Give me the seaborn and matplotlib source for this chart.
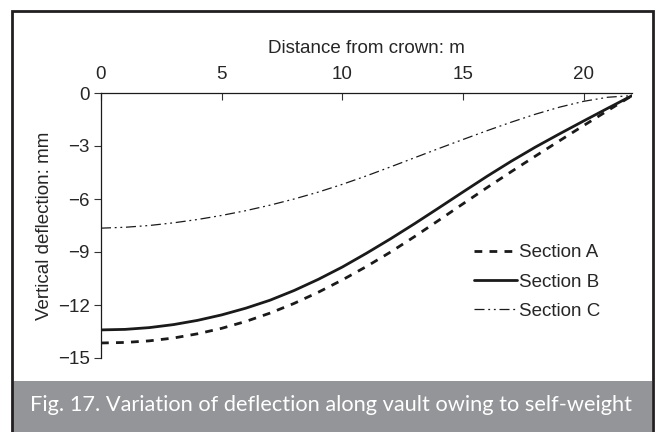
import numpy as np
import pandas as pd
import matplotlib
matplotlib.use("Agg")
import matplotlib.pyplot as plt
import seaborn as sns
from matplotlib.patches import Rectangle

# distance from crown (m)
distance = [0, 1, 2, 3, 4, 5, 6, 7, 8, 9, 10, 11,
            12, 13, 14, 15, 16, 17, 18, 19, 20, 21, 22]

# vertical deflection (mm)
section_a = [-14.15, -14.12, -14.03, -13.87, -13.63, -13.32, -12.93, -12.46,
             -11.91, -11.28, -10.58, -9.82, -9.00, -8.12, -7.20, -6.27,
             -5.35, -4.45, -3.57, -2.70, -1.84, -0.99, -0.15]
section_b = [-13.41, -13.38, -13.28, -13.11, -12.87, -12.56, -12.18, -11.73,
             -11.18, -10.55, -9.85, -9.07, -8.25, -7.39, -6.50, -5.60,
             -4.71, -3.86, -3.06, -2.31, -1.58, -0.86, -0.15]
section_c = [-7.65, -7.60, -7.50, -7.35, -7.16, -6.93, -6.66, -6.35,
             -6.00, -5.61, -5.17, -4.69, -4.18, -3.66, -3.14, -2.63,
             -2.13, -1.65, -1.20, -0.80, -0.47, -0.24, -0.15]

labels = ["Section A", "Section B", "Section C"]
xticks = [0, 5, 10, 15, 20]
yticks = [0, -3, -6, -9, -12, -15]
caption = "Fig. 17. Variation of deflection along vault owing to self-weight"

df = pd.DataFrame({
    "distance": distance * 3,
    "deflection": section_a + section_b + section_c,
    "section": [s for s in labels for _ in distance],
})

sns.set_style("white")
plt.rcParams["font.family"] = ["Liberation Sans", "DejaVu Sans"]

fig = plt.figure(figsize=(6.59, 4.32), dpi=100)
ax = fig.add_axes([101 / 659, 1 - 358 / 432, 531 / 659, 265 / 432])

styles = {
    "Section A": dict(lw=2.0, linestyle=(0, (2.8, 2.6))),
    "Section B": dict(lw=2.0, linestyle="-"),
    "Section C": dict(lw=0.9, linestyle=(0, (8, 3, 1.5, 3, 1.5, 3))),
}
for name in labels:
    sub = df[df["section"] == name]
    sns.lineplot(data=sub, x="distance", y="deflection", ax=ax, color="#1a1a1a",
                 label=name, **styles[name])

ax.set_xlim(0, 22)
ax.set_ylim(-15, 0)
ax.set_xticks(xticks)
ax.set_yticks(yticks)
ax.set_yticklabels(["0"] + ["\u2212" + str(-v) for v in yticks[1:]])

fs = 13.5
ax.xaxis.tick_top()
ax.xaxis.set_label_position("top")
ax.tick_params(axis="x", direction="in", length=5, width=0.8, pad=7,
               labelsize=fs, color="#333333")
ax.tick_params(axis="y", direction="out", length=5, width=0.8, pad=3,
               labelsize=fs, color="#333333", left=True)

for side in ["bottom", "right"]:
    ax.spines[side].set_visible(False)
for side in ["top", "left"]:
    ax.spines[side].set_color("#1a1a1a")
    ax.spines[side].set_linewidth(0.9)

ax.set_xlabel("Distance from crown: m", fontsize=fs)
ax.set_ylabel("Vertical deflection: mm", fontsize=fs)
ax.xaxis.set_label_coords(0.5, 1.151)
ax.yaxis.set_label_coords(-0.09, 0.5)

leg = ax.legend(loc="center left", bbox_to_anchor=(0.688, 0.287), frameon=False,
                fontsize=fs, handlelength=2.3, handletextpad=0.1,
                labelspacing=0.64, borderaxespad=0)

# outer frame and caption band
fig.patches.append(Rectangle((12 / 659, -0.01), 641 / 659, 1 - 11 / 432 + 0.01,
                             transform=fig.transFigure, fill=False,
                             edgecolor="#231f20", lw=2.0, zorder=5))
fig.patches.append(Rectangle((13 / 659, 0), 639 / 659, 51 / 432,
                             transform=fig.transFigure, facecolor="#939598",
                             edgecolor="none", zorder=4))
fig.text(331 / 659, 1 - 405 / 432, caption, color="white", fontsize=15.7,
         family=["Lato", "DejaVu Sans"], ha="center", va="center", zorder=6)

fig.savefig("out.png", dpi=100)
